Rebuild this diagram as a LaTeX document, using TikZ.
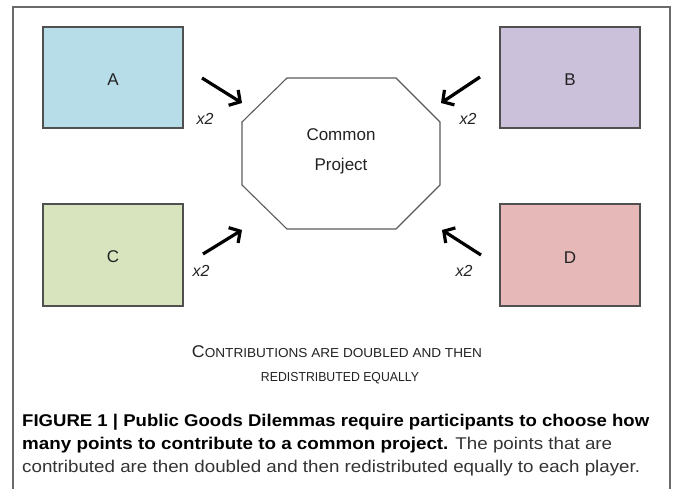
\documentclass[tikz,border=0pt]{standalone}
\usepackage{fontspec}
\usepackage{graphicx}
\setmainfont{Liberation Sans}
\usetikzlibrary{arrows.meta}
\definecolor{fillA}{HTML}{B7DEE8}
\definecolor{fillB}{HTML}{CCC1DA}
\definecolor{fillC}{HTML}{D7E4BD}
\definecolor{fillD}{HTML}{E6B9B8}
\definecolor{boxline}{HTML}{505050}
\definecolor{frameline}{HTML}{6A6A6A}
\definecolor{octoline}{HTML}{5A5A5A}
\definecolor{textdark}{HTML}{222222}
\definecolor{captext}{HTML}{333333}
\begin{document}
\begin{tikzpicture}[x=1pt,y=-1pt,
  player/.style={draw=boxline, line width=1.1pt, minimum width=140pt, minimum height=101pt,
    inner sep=0pt, font=\fontsize{17}{20}\selectfont, text height=16pt, text=textdark},
  contrib/.style={line width=3.2pt, -{Straight Barb[length=8pt,width=18pt]}},
  times/.style={font=\fontsize{16}{19}\selectfont\itshape, inner sep=0pt, text=textdark},
  projtext/.style={font=\fontsize{17}{20}\selectfont, anchor=base, inner sep=0pt, text=textdark},
  octo/.style={draw=octoline, line width=1.1pt, line join=miter},
  frame/.style={draw=frameline, line width=1.2pt},
  smallcap/.style={anchor=base, inner sep=0pt, text=textdark},
  captionline/.style={anchor=base west, inner sep=0pt, text=captext},
]
\useasboundingbox (0,0) rectangle (673,488);
\draw[frame] (13,490) -- (13,7) -- (670,7) -- (670,490);

% player boxes
\node[player, fill=fillA] (A) at (113,77.5) {A};
\node[player, fill=fillB] (B) at (570,77.5) {B};
\node[player, fill=fillC, minimum height=102pt] (C) at (113,255) {C};
\node[player, fill=fillD, minimum height=102pt] (D) at (570,255) {D};

% common project
\draw[octo] (287,78) -- (396,78) -- (440,122) -- (440,185) -- (396,229)
  -- (287,229) -- (242,185) -- (242,122) -- cycle;
\node[projtext] (common) at (341,140) {Common};
\node[projtext] (project) at (341,170) {Project};

% arrows
\coordinate (a1) at (202,78);  \coordinate (a2) at (242,103);
\coordinate (b1) at (480,77);  \coordinate (b2) at (441,103);
\coordinate (c1) at (203,254); \coordinate (c2) at (242,230);
\coordinate (d1) at (481,255); \coordinate (d2) at (442,230);
\draw[contrib] (a1) -- (a2);
\draw[contrib] (b1) -- (b2);
\draw[contrib] (c1) -- (c2);
\draw[contrib] (d1) -- (d2);

\node[times] (xa) at (205,118.5) {x2};
\node[times] (xb) at (468,118.5) {x2};
\node[times] (xc) at (201,270.5) {x2};
\node[times] (xd) at (464,270.5) {x2};

% small caps note
\node[smallcap] (note1) at (337,357) {\resizebox{290pt}{\height}{{\fontsize{17}{19}\selectfont C}\fontsize{13}{15}\selectfont ONTRIBUTIONS ARE DOUBLED AND THEN}};
\node[smallcap] (note2) at (340,381) {\resizebox{158pt}{\height}{\fontsize{13}{15}\selectfont REDISTRIBUTED EQUALLY}};

% caption
\node[captionline, text=black] (cap1) at (22,426) {\resizebox{627pt}{\height}{\fontsize{17}{20}\selectfont\bfseries FIGURE 1 | Public Goods Dilemmas require participants to choose how}};
\node[captionline] (cap2) at (22,449.5) {\resizebox{590pt}{\height}{\fontsize{17}{20}\selectfont\textbf{\color{black}many points to contribute to a common project.} The points that are}};
\node[captionline] (cap3) at (22,472.5) {\resizebox{618pt}{\height}{\fontsize{17}{20}\selectfont contributed are then doubled and then redistributed equally to each player.}};
\end{tikzpicture}
\end{document}
